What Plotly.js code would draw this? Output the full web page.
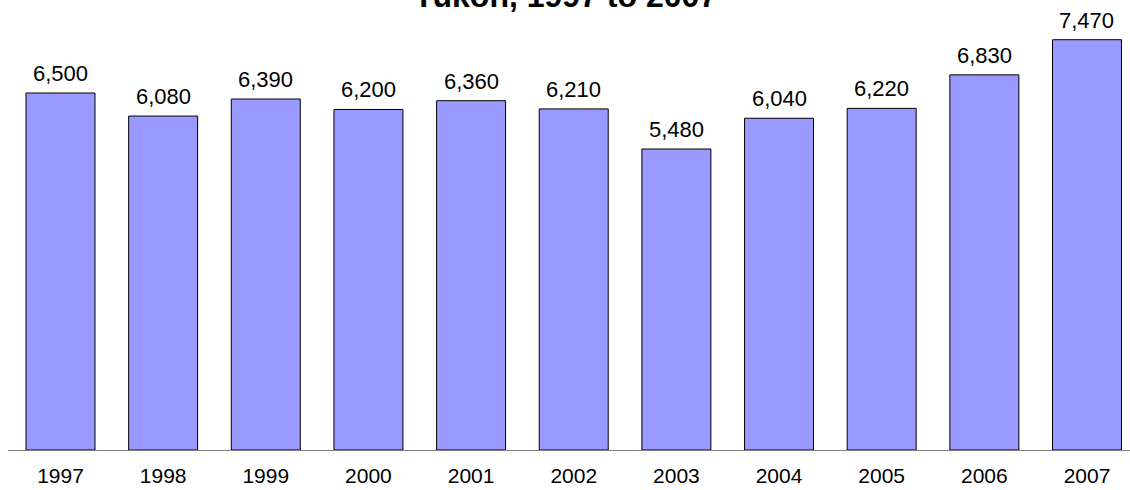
<!DOCTYPE html>
<html>
<head>
<meta charset="utf-8">
<script src="https://cdn.plot.ly/plotly-3.0.1.min.js"></script>
<style>html,body{margin:0;padding:0;background:#fff;}#chart{width:1130px;height:490px;}</style>
</head>
<body>
<div id="chart"></div>
<script>
const years = ["1997","1998","1999","2000","2001","2002","2003","2004","2005","2006","2007"];
const values = [6500, 6080, 6390, 6200, 6360, 6210, 5480, 6040, 6220, 6830, 7470];
const titleText = "Yukon, 1997 to 2007";

const FONT = "Arial, Liberation Sans, sans-serif";

const trace = {
  type: "bar",
  x: years,
  y: values,
  marker: {color: "#9999FF", line: {color: "#000000", width: 1}},
  hoverinfo: "skip"
};

const labels = values.map((v, i) => ({
  x: i, y: v, xref: "x", yref: "y",
  text: v.toLocaleString("en-US"),
  showarrow: false, xanchor: "center", yanchor: "bottom", yshift: 5,
  font: {family: FONT, size: 22, color: "#000"}
}));

const layout = {
  width: 1130, height: 490,
  margin: {l: 8, r: 0, t: 10, b: 40},
  paper_bgcolor: "#fff", plot_bgcolor: "#fff",
  bargap: 0.328,
  showlegend: false,
  title: {
    text: "<b>" + titleText + "</b>",
    font: {family: FONT, size: 32, color: "#000"},
    x: 0.5, xanchor: "center", xref: "container",
    y: 0.985, yanchor: "bottom", yref: "container"
  },
  annotations: labels,
  xaxis: {
    type: "category",
    range: [-0.5114, 10.419],
    showline: true, linecolor: "#808080", linewidth: 1,
    ticks: "", showgrid: false, zeroline: false,
    ticklabelstandoff: 7,
    tickfont: {family: FONT, size: 21, color: "#000"}
  },
  yaxis: {
    range: [0, 8011],
    visible: false, showgrid: false, zeroline: false
  }
};

Plotly.newPlot("chart", [trace], layout, {staticPlot: true, displayModeBar: false});
</script>
</body>
</html>
